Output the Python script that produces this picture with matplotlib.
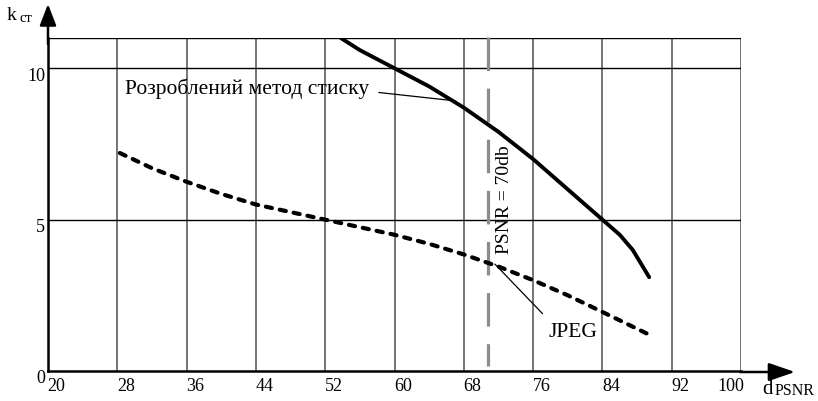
import numpy as np
import matplotlib
matplotlib.use("Agg")
import matplotlib.pyplot as plt
from matplotlib.transforms import ScaledTranslation

plt.rcParams['font.family'] = ['Liberation Serif', 'DejaVu Serif']

# data
x_new = [53.8, 56, 60, 64, 68, 72, 76, 80, 84, 86, 87.5, 89.4]
y_new = [11.0, 10.6, 10.0, 9.4, 8.7, 7.9, 7.0, 6.0, 5.0, 4.5, 4.0, 3.1]

x_jpeg = [28.3, 32, 36, 40, 44, 48, 52, 56, 60, 64, 68, 72, 76, 80, 84, 89.4]
y_jpeg = [7.2, 6.7, 6.25, 5.85, 5.5, 5.25, 5.0, 4.75, 4.5, 4.2, 3.85, 3.45, 3.0, 2.5, 1.95, 1.2]

x_ticks = [20, 28, 36, 44, 52, 60, 68, 76, 84, 92, 100]
y_ticks = [0, 5, 10]
psnr_line = 70.8

fig = plt.figure(figsize=(8.18, 4.02), dpi=100)
ax = fig.add_axes([48/818, 1-372/402, (741-48)/818, (372-39)/402])
ax.set_xlim(20, 100)
ax.set_ylim(0, 11)

# grid
for xv in x_ticks[1:]:
    ax.axvline(xv, color='#505050', lw=1.1, zorder=1)
for yv in [5, 10, 11]:
    ax.axhline(yv, color='black', lw=1.0, zorder=1)

ax.plot(x_new, y_new, color='black', lw=2.8, solid_capstyle='round', zorder=3)
ax.plot(x_jpeg, y_jpeg, color='black', lw=3.0, dashes=(1.5, 1.9),
        dash_capstyle='round', zorder=3)

ax.plot([psnr_line, psnr_line], [11.03, 0.17], color='#8c8c8c', lw=2.3,
        dashes=(10.5, 5.5), clip_on=False, zorder=2)

ax.text(psnr_line + 1.9, 5.68, 'PSNR = 70db', rotation=90, fontsize=14,
        ha='center', va='center')

ax.annotate('Розроблений метод стиску', xy=(66.8, 8.93), xytext=(28.9, 9.37),
            fontsize=15.5, va='center', ha='left',
            arrowprops=dict(arrowstyle='-', color='black', lw=0.9,
                            shrinkA=5, shrinkB=0, relpos=(1.0, 0.3)))
ax.annotate('JPEG', xy=(71.6, 3.53), xytext=(80.6, 1.29),
            fontsize=15.5, va='center', ha='center',
            arrowprops=dict(arrowstyle='-', color='black', lw=0.9,
                            shrinkA=6, shrinkB=0, relpos=(0.05, 1.0)))

for s in ['top', 'right']:
    ax.spines[s].set_visible(False)
for s in ['left', 'bottom']:
    ax.spines[s].set_linewidth(1.8)

ax.set_xticks(x_ticks)
ax.set_yticks(y_ticks)
ax.tick_params(length=0, labelsize=13)
ax.tick_params(axis='x', pad=4)
ax.tick_params(axis='y', pad=2)
ax.set_xticklabels([str(v) for v in x_ticks])
ax.set_yticklabels([str(v) for v in y_ticks])
for i, lab in enumerate(ax.get_xticklabels()):
    dx = -10/100 if x_ticks[i] == 100 else 8.5/100
    lab.set_transform(lab.get_transform() + ScaledTranslation(dx, 0, fig.dpi_scale_trans))
for i, lab in enumerate(ax.get_yticklabels()):
    lab.set_transform(lab.get_transform() + ScaledTranslation(0, -5/100, fig.dpi_scale_trans))

# axis arrows
ax.annotate('', xy=(795/818, 1-373/402), xytext=(740/818, 1-373/402),
            xycoords='figure fraction', textcoords='figure fraction',
            arrowprops=dict(arrowstyle='-|>,head_length=1.6,head_width=0.55',
                            color='black', lw=1.8, shrinkA=0, shrinkB=0))
ax.annotate('', xy=(48/818, 1-5/402), xytext=(48/818, 1-45/402),
            xycoords='figure fraction', textcoords='figure fraction',
            arrowprops=dict(arrowstyle='-|>,head_length=1.3,head_width=0.5',
                            color='black', lw=1.8, shrinkA=0, shrinkB=0))

fig.text(7/818, 1-20/402, 'k', fontsize=14, va='baseline', ha='left')
fig.text(20/818, 1-22/402, 'ст', fontsize=10.5, va='baseline', ha='left')
fig.text(762/818, 1-394/402, 'd', fontsize=15, va='baseline', ha='left')
fig.text(775/818, 1-395/402, 'PSNR', fontsize=11.5, va='baseline', ha='left')

fig.savefig('out.png', dpi=100)
